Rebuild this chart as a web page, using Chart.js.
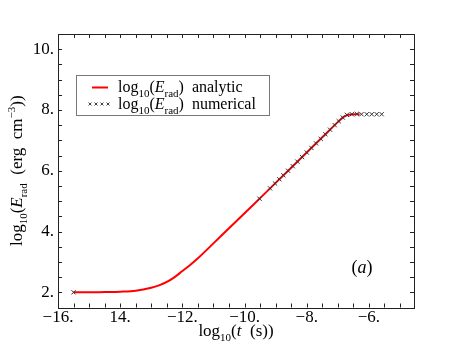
<!DOCTYPE html>
<html>
<head>
<meta charset="utf-8">
<script src="https://cdn.jsdelivr.net/npm/chart.js@4.4.1/dist/chart.umd.min.js"></script>
<style>
  html, body { margin: 0; padding: 0; background: #fff; }
  #wrap { width: 460px; height: 345px; }
</style>
</head>
<body>
<div id="wrap"><canvas id="energyChart" width="460" height="345"></canvas></div>
<script>
// log10(t) / log10(E_rad), analytic curve
const analyticT = [-15.5, -15, -14.5, -14, -13.5, -13, -12.75, -12.5, -12.25, -12, -11.75, -11.5, -11, -10.5, -10, -9.5, -9, -8.5, -8, -7.5, -7, -6.8, -6.6, -6.45, -6.3];
const analyticE = [2.0, 2.0, 2.01, 2.02, 2.05, 2.15, 2.23, 2.34, 2.5, 2.7, 2.9, 3.12, 3.61, 4.11, 4.6, 5.1, 5.6, 6.1, 6.6, 7.1, 7.6, 7.78, 7.85, 7.86, 7.86];

// numerical points
const numericT = [-15.5, -9.52, -9.18, -9.02, -8.88, -8.75, -8.6, -8.45, -8.3, -8.15, -8.0, -7.85, -7.7, -7.55, -7.4, -7.25, -7.1, -6.97, -6.84, -6.71, -6.55, -6.39, -6.24, -6.07, -5.91, -5.75, -5.59];
const numericE = [2.0, 5.08, 5.42, 5.58, 5.72, 5.85, 6.0, 6.15, 6.3, 6.45, 6.6, 6.75, 6.9, 7.05, 7.2, 7.35, 7.5, 7.63, 7.75, 7.84, 7.86, 7.87, 7.86, 7.86, 7.86, 7.86, 7.86];

const xTickValues = [-16, -14, -12, -10, -8, -6];
const xTickLabels = ['−16.', '14.', '−12.', '−10.', '−8.', '−6.'];
const yTickValues = [2, 4, 6, 8, 10];
const yTickLabels = ['2.', '4.', '6.', '8.', '10.'];

const SERIF = '"Liberation Serif", "DejaVu Serif", serif';

function fontFor(p, size) {
    const s = (p.sub || p.sup) ? Math.round(size * 0.66) : size;
    return (p.it ? 'italic ' : '') + s + 'px ' + SERIF;
}

// draws text with italic / sub / superscript parts
function drawRich(ctx, parts, x, y, size, align) {
    let w = 0;
    parts.forEach(p => { ctx.font = fontFor(p, size); w += ctx.measureText(p.t).width; });
    let cx = align === 'center' ? x - w / 2 : x;
    parts.forEach(p => {
        ctx.font = fontFor(p, size);
        const dy = p.sub ? size * 0.3 : (p.sup ? -size * 0.42 : 0);
        ctx.fillText(p.t, cx, y + dy);
        cx += ctx.measureText(p.t).width;
    });
}

const decorPlugin = {
    id: 'decor',
    afterDraw(chart) {
        const ctx = chart.ctx;
        const a = chart.chartArea;
        const xs = chart.scales.x;
        const ys = chart.scales.y;
        ctx.save();

        // frame
        ctx.strokeStyle = '#222';
        ctx.lineWidth = 1;
        ctx.strokeRect(Math.round(a.left) + 0.5, Math.round(a.top) + 0.5,
            Math.round(a.right - a.left), Math.round(a.bottom - a.top));

        // inward ticks every 0.5
        const tl = 4;
        ctx.beginPath();
        for (let v = -16; v <= xs.max; v += 0.5) {
            const px = Math.round(xs.getPixelForValue(v)) + 0.5;
            ctx.moveTo(px, a.bottom); ctx.lineTo(px, a.bottom - tl);
            ctx.moveTo(px, a.top); ctx.lineTo(px, a.top + tl);
        }
        for (let v = 1.5; v <= ys.max; v += 0.5) {
            const py = Math.round(ys.getPixelForValue(v)) + 0.5;
            ctx.moveTo(a.left, py); ctx.lineTo(a.left + tl, py);
            ctx.moveTo(a.right, py); ctx.lineTo(a.right - tl, py);
        }
        ctx.stroke();

        // legend box
        ctx.fillStyle = '#fff';
        ctx.fillRect(76, 75, 193, 40);
        ctx.strokeStyle = '#777';
        ctx.strokeRect(76.5, 75.5, 193, 40);
        ctx.strokeStyle = '#ff0000';
        ctx.lineWidth = 2;
        ctx.beginPath();
        ctx.moveTo(92, 87.5); ctx.lineTo(108, 87.5);
        ctx.stroke();
        ctx.strokeStyle = '#444';
        ctx.lineWidth = 1;
        ctx.beginPath();
        [90, 96, 102, 108].forEach(cx => {
            ctx.moveTo(cx - 1.5, 102.5); ctx.lineTo(cx + 1.5, 105.5);
            ctx.moveTo(cx - 1.5, 105.5); ctx.lineTo(cx + 1.5, 102.5);
        });
        ctx.stroke();

        ctx.fillStyle = '#000';
        ctx.textBaseline = 'alphabetic';
        drawRich(ctx, [{ t: 'log' }, { t: '10', sub: true }, { t: '(' }, { t: 'E', it: true },
            { t: 'rad', sub: true }, { t: ')  analytic' }], 118, 92, 16, 'left');
        drawRich(ctx, [{ t: 'log' }, { t: '10', sub: true }, { t: '(' }, { t: 'E', it: true },
            { t: 'rad', sub: true }, { t: ')  numerical' }], 118, 109, 16, 'left');

        // axis titles
        drawRich(ctx, [{ t: 'log' }, { t: '10', sub: true }, { t: '(' }, { t: 't', it: true },
            { t: '  (s))' }], (a.left + a.right) / 2, 336, 17, 'center');

        ctx.save();
        ctx.translate(22, (a.top + a.bottom) / 2);
        ctx.rotate(-Math.PI / 2);
        drawRich(ctx, [{ t: 'log' }, { t: '10', sub: true }, { t: '(' }, { t: 'E', it: true },
            { t: 'rad', sub: true }, { t: '  (erg  cm' }, { t: '−3', sup: true }, { t: '))' }], 0, 0, 17, 'center');
        ctx.restore();

        // panel label
        drawRich(ctx, [{ t: '(' }, { t: 'a', it: true }, { t: ')' }],
            xs.getPixelForValue(-6.22), ys.getPixelForValue(2.62), 18, 'center');

        ctx.restore();
    }
};

const chart = new Chart(document.getElementById('energyChart'), {
    type: 'line',
    data: {
        datasets: [
            {
                label: 'numerical',
                data: numericT.map((t, i) => ({ x: t, y: numericE[i] })),
                showLine: false,
                pointStyle: 'crossRot',
                pointRadius: 3,
                pointBorderWidth: 1,
                pointBorderColor: '#333',
                pointBackgroundColor: '#333',
            },
            {
                label: 'analytic',
                data: analyticT.map((t, i) => ({ x: t, y: analyticE[i] })),
                borderColor: '#ff0000',
                borderWidth: 2,
                pointRadius: 0,
                cubicInterpolationMode: 'monotone',
                fill: false,
            },
        ],
    },
    options: {
        responsive: false,
        animation: false,
        devicePixelRatio: 1,
        layout: { padding: { top: 34, right: 46, left: 0, bottom: 0 } },
        plugins: { legend: { display: false }, tooltip: { enabled: false } },
        scales: {
            x: {
                type: 'linear',
                min: -16,
                max: -4.55,
                grid: { display: false, drawTicks: false },
                border: { display: false },
                afterBuildTicks: s => { s.ticks = xTickValues.map(v => ({ value: v })); },
                afterFit: s => { s.height = 37.5; },
                ticks: {
                    callback: (v) => xTickLabels[xTickValues.indexOf(v)],
                    color: '#000',
                    font: { family: SERIF, size: 17 },
                    padding: 0,
                    maxRotation: 0,
                },
            },
            y: {
                type: 'linear',
                min: 1.5,
                max: 10.5,
                grid: { display: false, drawTicks: false },
                border: { display: false },
                afterBuildTicks: s => { s.ticks = yTickValues.map(v => ({ value: v })); },
                afterFit: s => { s.width = 58; },
                ticks: {
                    callback: (v) => yTickLabels[yTickValues.indexOf(v)],
                    color: '#000',
                    font: { family: SERIF, size: 17 },
                    padding: 4,
                },
            },
        },
    },
    plugins: [decorPlugin],
});
</script>
</body>
</html>
